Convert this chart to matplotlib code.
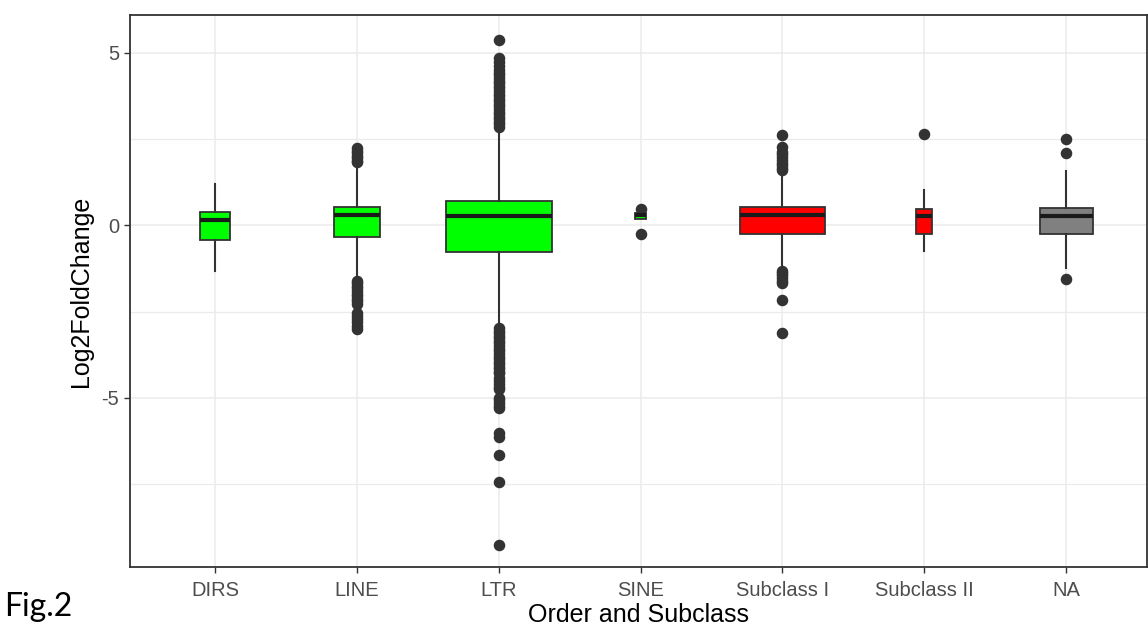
import matplotlib
matplotlib.use("Agg")
import matplotlib.pyplot as plt
import numpy as np

# Log2 fold change distribution per transposable element order / subclass
categories = ["DIRS", "LINE", "LTR", "SINE", "Subclass I", "Subclass II", "NA"]
q1 = [-0.42, -0.34, -0.76, 0.20, -0.24, -0.24, -0.24]
medians = [0.15, 0.31, 0.26, 0.29, 0.31, 0.26, 0.26]
q3 = [0.38, 0.53, 0.71, 0.35, 0.53, 0.48, 0.52]
whisker_low = [-1.31, -1.55, -2.95, 0.20, -1.25, -0.73, -1.22]
whisker_high = [1.19, 1.78, 2.82, 0.35, 1.55, 1.02, 1.57]

outliers_dirs = []
outliers_line = [2.24, 2.17, 2.10, 2.02, 1.95, 1.88, 1.84,
                 -1.62, -1.68, -1.75, -1.82, -1.90, -1.98, -2.05, -2.12, -2.20, -2.28,
                 -2.55, -2.63, -2.72, -2.80, -2.90, -3.00]
outliers_ltr = [5.37, 4.86, 4.75, 4.62, 4.50,
                4.43, 4.35, 4.27, 4.20, 4.12, 4.05, 3.97, 3.90, 3.82, 3.75, 3.67,
                3.60, 3.52, 3.45, 3.38, 3.30, 3.22, 3.15, 3.08, 3.00, 2.93, 2.86,
                -2.97, -3.05, -3.12, -3.20, -3.27, -3.35, -3.42, -3.50, -3.57, -3.65,
                -3.72, -3.80, -3.87, -3.95, -4.02, -4.10, -4.17, -4.24, -4.29,
                -4.43, -4.52, -4.60, -4.68, -4.75,
                -5.00, -5.07, -5.15, -5.22, -5.30,
                -6.02, -6.12, -6.65, -7.43, -9.27]
outliers_sine = [0.49, -0.24]
outliers_sub1 = [2.62, 2.28, 2.14, 2.06, 1.98, 1.90, 1.82, 1.74, 1.66, 1.60,
                 -1.31, -1.38, -1.45, -1.52, -1.60, -1.66, -2.16, -3.12]
outliers_sub2 = [2.65]
outliers_na = [2.50, 2.11, -1.54]
outliers = [outliers_dirs, outliers_line, outliers_ltr, outliers_sine,
            outliers_sub1, outliers_sub2, outliers_na]

fill_colors = ["#00FF00", "#00FF00", "#00FF00", "#00FF00", "#FF0000", "#FF0000", "#808080"]
box_widths = [0.21, 0.33, 0.75, 0.08, 0.60, 0.115, 0.375]

W, H = 1148, 627
fig = plt.figure(figsize=(W / 100, H / 100), dpi=100)
fig.patch.set_facecolor("white")
ax = fig.add_axes([130 / W, (H - 567) / H, 1017 / W, 552 / H])

stats = []
for i, name in enumerate(categories):
    stats.append(dict(label=name, med=medians[i], q1=q1[i], q3=q3[i],
                      whislo=whisker_low[i], whishi=whisker_high[i],
                      fliers=np.array(outliers[i])))

positions = np.arange(1, len(categories) + 1)
dark = "#333333"
bp = ax.bxp(stats, positions=positions, widths=box_widths, patch_artist=True,
            showcaps=False,
            boxprops=dict(edgecolor=dark, linewidth=1.3),
            medianprops=dict(color="#1a1a1a", linewidth=3.0),
            whiskerprops=dict(color=dark, linewidth=1.5),
            flierprops=dict(marker="o", markerfacecolor=dark, markeredgecolor=dark,
                            markersize=7.3, linestyle="none"))
for patch, c in zip(bp["boxes"], fill_colors):
    patch.set_facecolor(c)

ax.set_xlim(0.4, 7.57)
ax.set_ylim(-9.9, 6.1)
ax.set_xticks(positions)
ax.set_xticklabels(categories)
ax.set_yticks([-5, 0, 5])
ax.set_yticklabels(["-5", "0", "5"])
ax.set_yticks([-7.5, -2.5, 2.5], minor=True)
ax.tick_params(axis="y", which="minor", length=0)

ax.set_axisbelow(True)
ax.grid(True, which="major", color="#EBEBEB", linewidth=1.1)
ax.grid(True, which="minor", axis="y", color="#EBEBEB", linewidth=0.9)

for s in ax.spines.values():
    s.set_color(dark)
    s.set_linewidth(1.3)

ax.tick_params(axis="both", which="major", length=4, width=1.0, color=dark,
               labelcolor="#4D4D4D", labelsize=14.5)
ax.tick_params(axis="x", pad=6)
ax.tick_params(axis="y", pad=4)
for lab in ax.get_xticklabels() + ax.get_yticklabels():
    lab.set_family("Liberation Sans")

fig.text(81 / W, 1 - 291 / H, "Log2FoldChange", rotation=90, ha="center", va="center",
         fontsize=18, family="Liberation Sans", color="black")
fig.text(639 / W, 1 - 622 / H, "Order and Subclass", ha="center", va="baseline",
         fontsize=18, family="Liberation Sans", color="black")
fig.text(4 / W, 1 - 616 / H, "Fig.2", ha="left", va="baseline",
         fontsize=23, family="Lato", color="black")

fig.savefig("out.png", dpi=100, facecolor="white")
